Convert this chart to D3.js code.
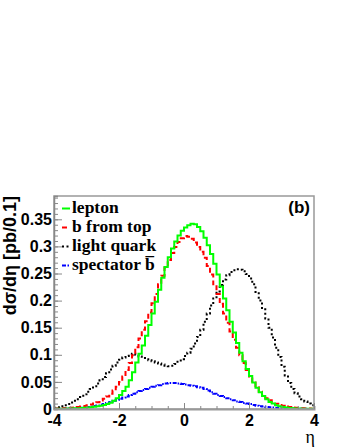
<!DOCTYPE html>
<html>
<head>
<meta charset="utf-8">
<script src="https://cdnjs.cloudflare.com/ajax/libs/d3/7.8.5/d3.min.js"></script>
<style>
  body { margin: 0; background: #fff; }
  .tick text { font-family: "Liberation Sans", Arial, sans-serif; font-weight: bold; font-size: 16px; fill: #000; }
</style>
</head>
<body>
<div id="chart"></div>
<script>
// histogram binning: 80 bins of 0.1 in eta
var etaMin = -4, binWidth = 0.1;

// dsigma/deta per bin (bin -3.95 ... 3.95)
var lepton = [
  0.0003,0.0004,0.0005,0.0006,0.0008,0.0010,0.0012,0.0015,0.0018,0.0022,
  0.0027,0.0033,0.0040,0.0050,0.0060,0.0072,0.0090,0.0115,0.0150,0.020,
  0.026,0.033,0.041,0.053,0.068,0.086,0.102,0.117,0.135,0.155,
  0.176,0.198,0.220,0.242,0.262,0.280,0.296,0.309,0.320,0.329,
  0.335,0.339,0.342,0.341,0.336,0.328,0.316,0.302,0.286,0.268,
  0.248,0.226,0.204,0.182,0.161,0.141,0.122,0.104,0.088,0.074,
  0.061,0.049,0.039,0.031,0.024,0.018,0.013,0.010,0.007,0.005,
  0.0037,0.0027,0.0020,0.0015,0.0011,0.0008,0.0006,0.0005,0.0004,0.0003
];
var bFromTop = [
  0.0008,0.0010,0.0012,0.0015,0.0019,0.0023,0.0029,0.0036,0.0045,0.0056,
  0.0068,0.0082,0.010,0.0125,0.0155,0.019,0.023,0.028,0.034,0.041,
  0.050,0.060,0.072,0.085,0.099,0.114,0.130,0.146,0.162,0.178,
  0.195,0.212,0.230,0.246,0.261,0.275,0.288,0.299,0.308,0.315,
  0.319,0.318,0.314,0.307,0.299,0.290,0.279,0.264,0.248,0.230,
  0.212,0.194,0.176,0.159,0.143,0.128,0.113,0.099,0.085,0.072,
  0.060,0.049,0.040,0.032,0.025,0.020,0.016,0.012,0.0095,0.0075,
  0.0058,0.0045,0.0035,0.0027,0.0021,0.0016,0.0013,0.0010,0.0008,0.0006
];
var lightQuark = [
  0.002,0.003,0.005,0.007,0.009,0.012,0.015,0.018,0.022,0.027,
  0.032,0.037,0.042,0.047,0.053,0.059,0.066,0.073,0.080,0.086,
  0.091,0.095,0.098,0.101,0.102,0.100,0.097,0.094,0.092,0.090,
  0.088,0.086,0.084,0.082,0.080,0.079,0.080,0.083,0.087,0.092,
  0.098,0.104,0.111,0.121,0.133,0.146,0.161,0.176,0.191,0.204,
  0.217,0.229,0.239,0.247,0.253,0.256,0.258,0.257,0.254,0.249,
  0.241,0.230,0.216,0.200,0.184,0.167,0.150,0.132,0.113,0.096,
  0.078,0.062,0.048,0.037,0.029,0.023,0.018,0.014,0.010,0.007
];
var spectatorB = [
  0.0003,0.0004,0.0005,0.0007,0.0009,0.0012,0.0015,0.0019,0.0024,0.0030,
  0.0037,0.0045,0.0055,0.0066,0.0078,0.0092,0.011,0.013,0.015,0.017,
  0.019,0.021,0.023,0.026,0.028,0.031,0.033,0.035,0.037,0.039,
  0.041,0.043,0.044,0.046,0.047,0.048,0.048,0.048,0.047,0.046,
  0.045,0.044,0.043,0.042,0.040,0.039,0.037,0.034,0.031,0.028,
  0.026,0.024,0.022,0.020,0.018,0.016,0.014,0.013,0.011,0.010,
  0.009,0.0075,0.0062,0.0052,0.0044,0.0037,0.0031,0.0026,0.0022,0.0018,
  0.0015,0.0012,0.0010,0.0008,0.0006,0.0005,0.0004,0.0003,0.0002,0.0002
];

var legendLabels = ["lepton", "b from top", "light quark", "spectator b\u0305"];
var xTicks = [-4, -2, 0, 2, 4];
var yTicks = [0, 0.05, 0.1, 0.15, 0.2, 0.25, 0.3, 0.35];

var series = [
  { name: legendLabels[0], values: lepton,     color: "#00ff00", dash: null },
  { name: legendLabels[1], values: bFromTop,   color: "#ff0000", dash: "5,3" },
  { name: legendLabels[2], values: lightQuark, color: "#000000", dash: "2,2.5" },
  { name: legendLabels[3], values: spectatorB, color: "#0000ff", dash: "4,1.5,1.5,1.5" }
];

var width = 346, height = 448;
var margin = { top: 196, right: 32, bottom: 39, left: 54 };
var plotW = width - margin.left - margin.right;
var plotH = height - margin.top - margin.bottom;

var svg = d3.select("#chart").append("svg")
    .attr("width", width)
    .attr("height", height)
    .style("background", "#fff");

var x = d3.scaleLinear().domain([-4, 4]).range([0, plotW]);
var y = d3.scaleLinear().domain([0, 0.393]).range([plotH, 0]);

var g = svg.append("g").attr("transform", "translate(" + margin.left + "," + margin.top + ")");

svg.append("defs").append("clipPath").attr("id", "clip")
  .append("rect").attr("width", plotW).attr("height", plotH);

// histograms as step outlines
var line = d3.line()
    .x(function(d) { return x(d[0]); })
    .y(function(d) { return y(d[1]); })
    .curve(d3.curveStepAfter);

var plot = g.append("g").attr("clip-path", "url(#clip)");
// draw back to front: blue, black, red, green on top
series.slice().reverse().forEach(function(s) {
  var pts = s.values.map(function(v, i) { return [etaMin + i * binWidth, v]; });
  pts.push([etaMin + s.values.length * binWidth, s.values[s.values.length - 1]]);
  plot.append("path")
    .datum(pts)
    .attr("fill", "none")
    .attr("stroke", s.color)
    .attr("stroke-width", 2)
    .attr("stroke-dasharray", s.dash)
    .attr("d", line);
});

// frame
g.append("rect")
  .attr("width", plotW).attr("height", plotH)
  .attr("fill", "none").attr("stroke", "#999").attr("stroke-width", 1.5);

// plain hyphen for negatives, like the original
var fmt = function(d) { return String(+d.toFixed(2)); };

// y axis: minor + major ticks, pointing inside
g.append("g")
  .call(d3.axisLeft(y).tickValues(d3.range(0, 0.391, 0.01)).tickSize(-4).tickFormat(""))
  .call(function(a) { a.selectAll("line").attr("stroke", "#888"); a.select(".domain").attr("stroke", "#888").attr("stroke-width", 1.5); });
g.append("g")
  .call(d3.axisLeft(y).tickValues(yTicks).tickSize(-8).tickPadding(2).tickFormat(fmt))
  .call(function(a) { a.selectAll("line").attr("stroke", "#888"); a.select(".domain").remove(); });

// x axis
g.append("g")
  .attr("transform", "translate(0," + plotH + ")")
  .call(d3.axisBottom(x).tickValues(d3.range(-4, 4.01, 0.5)).tickSize(-3).tickFormat(""))
  .call(function(a) { a.selectAll("line").attr("stroke", "#888"); a.select(".domain").attr("stroke", "#999").attr("stroke-width", 2); });
g.append("g")
  .attr("transform", "translate(0," + plotH + ")")
  .call(d3.axisBottom(x).tickValues(xTicks).tickSize(-6).tickPadding(6).tickFormat(fmt))
  .call(function(a) { a.selectAll("line").attr("stroke", "#888"); a.select(".domain").remove(); });

// axis titles
svg.append("text")
  .attr("transform", "translate(16," + margin.top + ") rotate(-90)")
  .attr("text-anchor", "end")
  .style("font-family", "'Liberation Sans', Arial, sans-serif")
  .style("font-weight", "bold")
  .style("font-size", "18px")
  .text("d\u03c3/d\u03b7 [pb/0.1]");

svg.append("text")
  .attr("x", margin.left + plotW + 1)
  .attr("y", 443)
  .attr("text-anchor", "end")
  .style("font-family", "'Liberation Serif', 'Times New Roman', serif")
  .style("font-size", "18px")
  .text("\u03b7");

// panel label
svg.append("text")
  .attr("x", margin.left + plotW - 4)
  .attr("y", 213)
  .attr("text-anchor", "end")
  .style("font-family", "'Liberation Sans', Arial, sans-serif")
  .style("font-weight", "bold")
  .style("font-size", "17px")
  .text("(b)");

// legend
var legend = svg.append("g").attr("transform", "translate(62,213)");
series.forEach(function(s, i) {
  var row = legend.append("g").attr("transform", "translate(0," + (i * 19) + ")");
  row.append("line")
    .attr("x1", 0).attr("x2", 8).attr("y1", -4.5).attr("y2", -4.5)
    .attr("stroke", s.color).attr("stroke-width", 2)
    .attr("stroke-dasharray", s.dash);
  row.append("text")
    .attr("x", 10).attr("y", 0)
    .style("font-family", "'Liberation Serif', 'Times New Roman', serif")
    .style("font-weight", "bold")
    .style("font-size", "17.5px")
    .text(s.name);
});
</script>
</body>
</html>
